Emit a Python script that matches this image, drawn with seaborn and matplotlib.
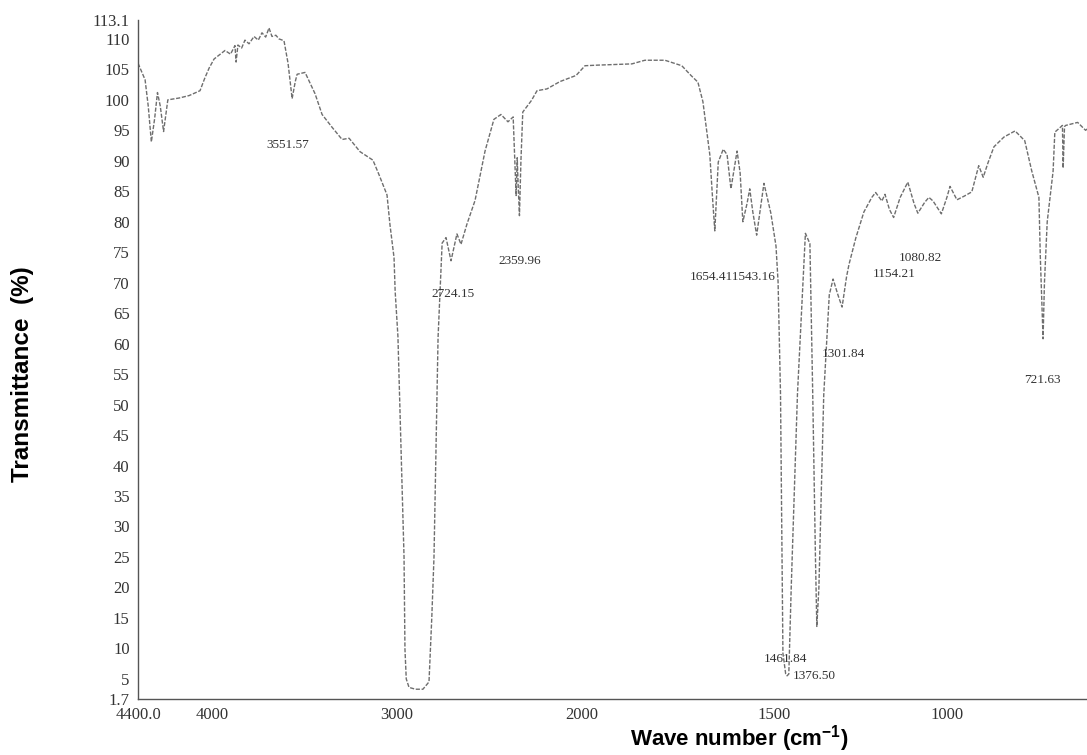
import numpy as np
import pandas as pd
import matplotlib
matplotlib.use("Agg")
import matplotlib.pyplot as plt
import seaborn as sns

# IR spectrum (wave number in cm-1, transmittance in %)
wavenumber = [4400, 4362, 4345, 4328, 4310, 4295, 4280, 4262, 4239, 4178, 4124, 4065,
              4040, 4016, 3989, 3930, 3900, 3876, 3870, 3860, 3840, 3822, 3800, 3773,
              3750, 3730, 3710, 3692, 3676, 3655, 3638, 3611, 3589, 3567, 3550, 3540,
              3497, 3443, 3405, 3351, 3297, 3259, 3200, 3130, 3097, 3054, 3038, 3016,
              3010, 2995, 2962, 2957, 2950, 2935, 2900, 2860, 2827, 2812, 2800, 2778,
              2756, 2735, 2708, 2676, 2654, 2622, 2578, 2524, 2476, 2438, 2400, 2372,
              2362, 2356, 2350, 2345, 2338, 2330, 2320, 2273, 2243, 2189, 2119, 2032,
              1992, 1958, 1914, 1870, 1836, 1784, 1740, 1716, 1698, 1685, 1677, 1667,
              1660, 1654, 1645, 1632, 1622, 1612, 1596, 1588, 1581, 1570, 1563, 1555,
              1545, 1526, 1508, 1494, 1488, 1481, 1474, 1466, 1462, 1457, 1450, 1432,
              1409, 1396, 1388, 1380, 1376, 1370, 1356, 1340, 1329, 1315, 1303, 1290,
              1283, 1263, 1240, 1217, 1206, 1188, 1179, 1166, 1154, 1135, 1113, 1095,
              1084, 1064, 1052, 1040, 1016, 1000, 991, 971, 950, 928, 908, 895,
              881, 864, 835, 803, 775, 755, 734, 730, 725, 722, 718, 710,
              693, 688, 666, 664, 660, 657, 622, 599, 567, 550, 539, 518]
transmittance = [106.0, 103.3, 99.0, 93.1, 97.0, 101.2, 99.0, 94.8, 100.0, 100.3, 100.7, 101.5,
                 103.5, 105.2, 106.7, 108.1, 107.5, 108.9, 106.2, 109.0, 108.5, 109.8, 109.2, 110.4,
                 109.8, 111.0, 110.3, 111.8, 110.4, 110.6, 110.0, 109.7, 106.0, 100.2, 103.0, 104.2,
                 104.5, 101.0, 97.6, 95.5, 93.5, 93.7, 91.5, 90.1, 87.7, 84.4, 79.5, 74.1,
                 68.6, 61.2, 25.0, 9.9, 5.0, 3.6, 3.3, 3.3, 4.5, 15.0, 25.0, 61.0,
                 76.5, 77.4, 73.6, 78.0, 76.3, 79.6, 83.5, 91.6, 96.8, 97.6, 96.4, 97.2,
                 89.0, 84.3, 90.5, 86.0, 81.0, 90.0, 98.0, 99.9, 101.5, 101.8, 103.0, 104.0,
                 105.6, 105.7, 105.8, 105.9, 106.5, 106.5, 105.6, 104.0, 102.9, 99.7, 95.8, 91.0,
                 84.0, 78.5, 89.8, 91.9, 91.0, 85.4, 91.6, 88.0, 80.0, 83.0, 85.4, 81.6,
                 77.8, 86.3, 81.4, 76.0, 70.1, 51.8, 9.2, 5.8, 5.5, 5.8, 20.0, 51.7,
                 78.1, 76.4, 52.2, 25.0, 13.6, 20.0, 51.6, 68.0, 70.6, 68.0, 66.0, 71.0,
                 73.0, 77.4, 81.6, 84.0, 84.8, 83.4, 84.5, 82.0, 80.7, 84.0, 86.5, 83.0,
                 81.4, 83.2, 84.0, 83.4, 81.3, 84.0, 85.8, 83.6, 84.2, 84.9, 89.2, 87.3,
                 89.7, 92.3, 93.9, 94.9, 93.3, 88.4, 84.0, 74.3, 66.0, 60.8, 70.0, 80.0,
                 88.3, 94.7, 95.8, 88.8, 95.6, 95.8, 96.3, 95.0, 96.7, 95.5, 91.3, 91.2]

peak_labels = ["3551.57", "2724.15", "2359.96", "1654.411543.16", "1461.84",
               "1376.50", "1301.84", "1154.21", "1080.82", "721.63"]

x_ticks = [4400, 4000, 3000, 2000, 1500, 1000]
x_tick_labels = ["4400.0", "4000", "3000", "2000", "1500", "1000"]
y_ticks = [1.7, 5, 10, 15, 20, 25, 30, 35, 40, 45, 50, 55, 60, 65, 70, 75, 80,
           85, 90, 95, 100, 105, 110, 113.1]
y_tick_labels = ["1.7", "5", "10", "15", "20", "25", "30", "35", "40", "45", "50", "55",
                 "60", "65", "70", "75", "80", "85", "90", "95", "100", "105", "110", "113.1"]

df = pd.DataFrame({"wn": wavenumber, "T": transmittance})


# spectrometer style axis: expanded below 2000 cm-1
def fwd(wn):
    wn = np.asarray(wn, dtype=float)
    u = np.where(wn >= 2000, (4400 - wn) * 0.185,
                 np.where(wn >= 1500, 444 + (2000 - wn) * 0.384,
                          636 + (1500 - wn) * 0.346))
    return -u


def inv(v):
    u = -np.asarray(v, dtype=float)
    return np.where(u <= 444, 4400 - u / 0.185,
                    np.where(u <= 636, 2000 - (u - 444) / 0.384,
                             1500 - (u - 636) / 0.346))


sns.set_style("white")
plt.rcParams["font.family"] = ["Liberation Serif", "DejaVu Serif"]

fig = plt.figure(figsize=(10.87, 7.55), dpi=100)
ax = fig.add_axes([0.127, 0.0742, 0.873, 0.8993])

sns.lineplot(data=df, x="wn", y="T", sort=False, ax=ax, color="#6e6e6e",
             linewidth=1.0, linestyle=(0, (3, 1.2)))

ax.set_xscale("function", functions=(fwd, inv))
ax.set_xlim(4400, 595)
ax.set_ylim(1.7, 113.1)
ax.set_xticks(x_ticks)
ax.set_xticklabels(x_tick_labels)
ax.set_yticks(y_ticks)
ax.set_yticklabels(y_tick_labels)
ax.tick_params(axis="both", labelsize=12, colors="#333333", length=3, width=0.8,
               direction="out", pad=3)
ax.minorticks_off()
ax.set_xlabel("")
ax.set_ylabel("")

sns.despine(ax=ax, top=True, right=True)
for side in ["left", "bottom"]:
    ax.spines[side].set_color("#555555")
    ax.spines[side].set_linewidth(1.0)

# peak annotations
label_pos = [(3590, 92.6), (2697, 68.2), (2335, 73.6), (1607, 71.0), (1468, 8.3),
             (1384, 5.5), (1300, 58.3), (1153, 71.5), (1078, 74.0), (725, 54.1)]
for txt, (wx, ty) in zip(peak_labels, label_pos):
    ax.text(wx, ty, txt, fontsize=9.5, color="#333333", ha="center", va="center")

sans_bold = dict(fontweight="bold", family=["Liberation Sans", "DejaVu Sans"], color="black")
fig.text(739 / 1087, 1 - 739 / 755, "Wave number (cm$^{\\mathregular{-1}}$)",
         fontsize=16, ha="center", va="center", **sans_bold)
fig.text(23 / 1087, 1 - 374 / 755, "Transmittance  (%)", fontsize=17.5,
         rotation=90, ha="center", va="center", **sans_bold)

fig.savefig("out.png", dpi=100)
